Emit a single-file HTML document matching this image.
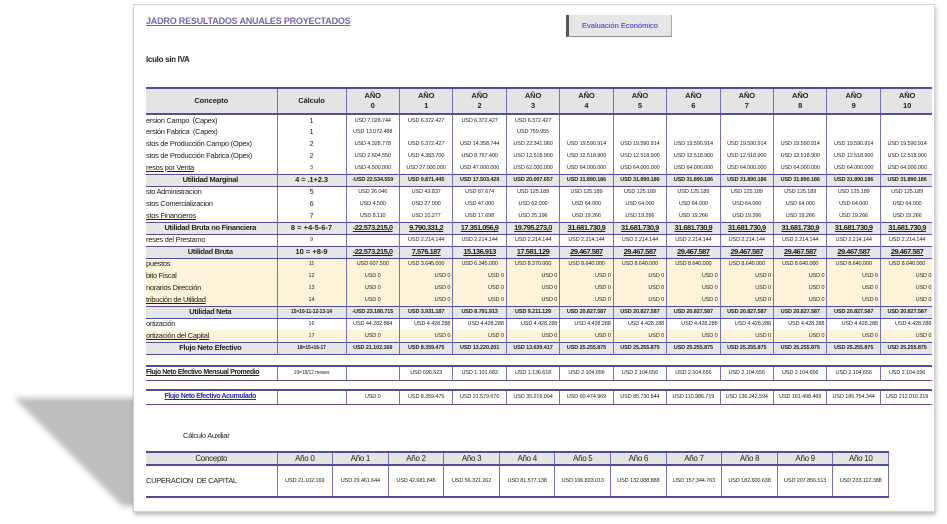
<!DOCTYPE html>
<html><head><meta charset="utf-8"><style>
*{margin:0;padding:0;box-sizing:border-box}
body{width:947px;height:524px;background:#fff;position:relative;overflow:hidden;font-family:"Liberation Sans Narrow","Liberation Sans",sans-serif;color:#222}
.card{position:absolute;left:133px;top:4px;width:802px;height:508px;background:#fff;border:1px solid #d4d4d4;box-shadow:1px 3px 4px rgba(0,0,0,.25)}
.abs{position:absolute}
table{border-collapse:collapse;table-layout:fixed}
td{height:12px;font-size:5.5px;text-align:center;white-space:nowrap;overflow:hidden;border-left:1px solid #7070c0;border-right:1px solid #7070c0;padding:0 2px;line-height:10px;letter-spacing:-0.1px}
td.c{text-align:left;font-size:7.5px;padding-left:0;border-left:none;letter-spacing:-0.3px}
td.k{font-size:7.5px}
tr.hd td{height:26px;background:#e4e4e4;font-weight:bold;font-size:7.5px;line-height:10px;border-top:2px solid #50509a;border-bottom:2px solid #50509a}
tr.b td{background:#e6e6e6;font-weight:bold;border-top:1px solid #50509a;border-bottom:1px solid #50509a}
tr.b td.c{text-align:center;font-size:7.5px}
tr.u td{text-decoration:underline;font-size:7.5px;letter-spacing:-0.5px}
tr.u td.c{letter-spacing:-0.3px}
tr.y td{background:#fdf3d8}
td.r{text-align:right}
td.f{font-size:5px}
.wrap{position:absolute;left:146px;overflow:hidden}
tr.ah td{height:12px;background:#e4e4e4;font-size:8px;line-height:11px;border-top:2px solid #50509a;border-bottom:2px solid #50509a;letter-spacing:-0.3px}
</style></head><body>
<svg class="abs" style="left:0;top:380px" width="150" height="144"><defs><filter id="f"><feGaussianBlur stdDeviation="3"/></filter></defs><polygon points="14,18 140,18 140,126 122,126" fill="#bdbdbd" filter="url(#f)"/></svg>
<div class="card"></div>
<div class="abs" style="left:146px;top:16px;font-size:9px;font-weight:bold;color:#6a6aa8;text-decoration:underline;letter-spacing:-0.2px">JADRO RESULTADOS ANUALES PROYECTADOS</div>
<div class="abs" style="left:566px;top:15px;width:106px;height:22px;background:#e6e6e6;border-left:3px solid #555;border-bottom:1px solid #888;border-right:1px solid #aaa;font-size:7.5px;color:#2a2ad0;text-align:center;line-height:22px">Evaluación Económico</div>
<div class="abs" style="left:146px;top:55px;font-size:8px;font-weight:bold;letter-spacing:-0.3px">lculo sin IVA</div>

<div class="wrap" style="top:87px;width:786px">
<table style="width:788px">
<colgroup><col style="width:131px"><col style="width:69px"><col span="11" style="width:53.45px"></colgroup>
<tr class="hd"><td style="text-align:center;border-left:none">Concepto</td><td>Cálculo</td><td>AÑO<br>0</td><td>AÑO<br>1</td><td>AÑO<br>2</td><td>AÑO<br>3</td><td>AÑO<br>4</td><td>AÑO<br>5</td><td>AÑO<br>6</td><td>AÑO<br>7</td><td>AÑO<br>8</td><td>AÑO<br>9</td><td>AÑO<br>10</td></tr>
<tr><td class="c">ersion Campo &nbsp;(Capex)</td><td class="k">1</td><td>USD 7.028.744</td><td>USD 6.372.427</td><td>USD 6.372.427</td><td>USD 6.372.427</td><td></td><td></td><td></td><td></td><td></td><td></td><td></td></tr>
<tr><td class="c">ersión Fabrica &nbsp;(Capex)</td><td class="k">1</td><td>USD 13.072.488</td><td></td><td></td><td>USD 759.955</td><td></td><td></td><td></td><td></td><td></td><td></td><td></td></tr>
<tr><td class="c">stos de Producción Campo (Opex)</td><td class="k">2</td><td>USD 4.328.778</td><td>USD 6.372.427</td><td>USD 14.358.744</td><td>USD 22.341.060</td><td>USD 19.590.914</td><td>USD 19.590.914</td><td>USD 19.590.914</td><td>USD 19.590.914</td><td>USD 19.590.914</td><td>USD 19.590.914</td><td>USD 19.590.914</td></tr>
<tr><td class="c">stos de Producción Fabrica (Opex)</td><td class="k">2</td><td>USD 2.604.550</td><td>USD 4.383.700</td><td>USD 8.767.400</td><td>USD 12.518.900</td><td>USD 12.518.900</td><td>USD 12.518.900</td><td>USD 12.518.900</td><td>USD 12.518.900</td><td>USD 12.518.900</td><td>USD 12.518.900</td><td>USD 12.518.900</td></tr>
<tr><td class="c" style="text-decoration:underline">resos por Venta</td><td>3</td><td>USD 4.500.000</td><td>USD 27.000.000</td><td>USD 47.000.000</td><td>USD 62.000.000</td><td>USD 64.000.000</td><td>USD 64.000.000</td><td>USD 64.000.000</td><td>USD 64.000.000</td><td>USD 64.000.000</td><td>USD 64.000.000</td><td>USD 64.000.000</td></tr>
<tr class="b"><td class="c">Utilidad Marginal</td><td class="k">4 = .1+2.3</td><td>-USD 22.534.559</td><td>USD 9.871.445</td><td>USD 17.503.429</td><td>USD 20.007.657</td><td>USD 31.890.186</td><td>USD 31.890.186</td><td>USD 31.890.186</td><td>USD 31.890.186</td><td>USD 31.890.186</td><td>USD 31.890.186</td><td>USD 31.890.186</td></tr>
<tr><td class="c">sto Administracion</td><td class="k">5</td><td>USD 26.046</td><td>USD 43.837</td><td>USD 87.674</td><td>USD 125.189</td><td>USD 125.189</td><td>USD 125.189</td><td>USD 125.189</td><td>USD 125.189</td><td>USD 125.189</td><td>USD 125.189</td><td>USD 125.189</td></tr>
<tr><td class="c">stos Comercializacion</td><td class="k">6</td><td>USD 4.500</td><td>USD 27.000</td><td>USD 47.000</td><td>USD 62.000</td><td>USD 64.000</td><td>USD 64.000</td><td>USD 64.000</td><td>USD 64.000</td><td>USD 64.000</td><td>USD 64.000</td><td>USD 64.000</td></tr>
<tr><td class="c" style="text-decoration:underline">stos Financieros</td><td class="k">7</td><td>USD 8.110</td><td>USD 10.277</td><td>USD 17.698</td><td>USD 25.196</td><td>USD 19.266</td><td>USD 19.266</td><td>USD 19.266</td><td>USD 19.266</td><td>USD 19.266</td><td>USD 19.266</td><td>USD 19.266</td></tr>
<tr class="b u"><td class="c" style="text-decoration:none">Utilidad Bruta no Financiera</td><td class="f" style="text-decoration:none;letter-spacing:0">8 = +4-5-6-7</td><td>-22.573.215,0</td><td>9.790.331,2</td><td>17.351.056,9</td><td>19.795.273,0</td><td>31.681.730,9</td><td>31.681.730,9</td><td>31.681.730,9</td><td>31.681.730,9</td><td>31.681.730,9</td><td>31.681.730,9</td><td>31.681.730,9</td></tr>
<tr><td class="c">reses del Prestamo</td><td>9</td><td></td><td>USD 2.214.144</td><td>USD 2.214.144</td><td>USD 2.214.144</td><td>USD 2.214.144</td><td>USD 2.214.144</td><td>USD 2.214.144</td><td>USD 2.214.144</td><td>USD 2.214.144</td><td>USD 2.214.144</td><td>USD 2.214.144</td></tr>
<tr class="b u"><td class="c" style="text-decoration:none">Utilidad Bruta</td><td class="f" style="text-decoration:none;letter-spacing:0">10 = +8-9</td><td>-22.573.215,0</td><td>7.576.187</td><td>15.136.913</td><td>17.581.129</td><td>29.467.587</td><td>29.467.587</td><td>29.467.587</td><td>29.467.587</td><td>29.467.587</td><td>29.467.587</td><td>29.467.587</td></tr>
<tr class="y"><td class="c">puestos</td><td>11</td><td>USD 607.500</td><td>USD 3.645.000</td><td>USD 6.345.000</td><td>USD 8.370.000</td><td>USD 8.640.000</td><td>USD 8.640.000</td><td>USD 8.640.000</td><td>USD 8.640.000</td><td>USD 8.640.000</td><td>USD 8.640.000</td><td>USD 8.640.000</td></tr>
<tr class="y"><td class="c">bito Fiscal</td><td>12</td><td>USD 0</td><td class="r">USD 0</td><td class="r">USD 0</td><td class="r">USD 0</td><td class="r">USD 0</td><td class="r">USD 0</td><td class="r">USD 0</td><td class="r">USD 0</td><td class="r">USD 0</td><td class="r">USD 0</td><td class="r">USD 0</td></tr>
<tr class="y"><td class="c">norarios Dirección</td><td>13</td><td>USD 0</td><td class="r">USD 0</td><td class="r">USD 0</td><td class="r">USD 0</td><td class="r">USD 0</td><td class="r">USD 0</td><td class="r">USD 0</td><td class="r">USD 0</td><td class="r">USD 0</td><td class="r">USD 0</td><td class="r">USD 0</td></tr>
<tr class="y"><td class="c" style="text-decoration:underline">tribución de Utilidad</td><td>14</td><td>USD 0</td><td class="r">USD 0</td><td class="r">USD 0</td><td class="r">USD 0</td><td class="r">USD 0</td><td class="r">USD 0</td><td class="r">USD 0</td><td class="r">USD 0</td><td class="r">USD 0</td><td class="r">USD 0</td><td class="r">USD 0</td></tr>
<tr class="b"><td class="c">Utilidad Neta</td><td class="f">15=10-11-12-13-14</td><td>-USD 23.180.715</td><td>USD 3.931.187</td><td>USD 8.791.913</td><td>USD 9.211.129</td><td>USD 20.827.587</td><td>USD 20.827.587</td><td>USD 20.827.587</td><td>USD 20.827.587</td><td>USD 20.827.587</td><td>USD 20.827.587</td><td>USD 20.827.587</td></tr>
<tr><td class="c">ortización</td><td>16</td><td>USD 44.282.884</td><td class="r">USD 4.428.288</td><td class="r">USD 4.428.288</td><td class="r">USD 4.428.288</td><td class="r">USD 4.428.288</td><td class="r">USD 4.428.288</td><td class="r">USD 4.428.288</td><td class="r">USD 4.428.288</td><td class="r">USD 4.428.288</td><td class="r">USD 4.428.288</td><td class="r">USD 4.428.288</td></tr>
<tr class="y"><td class="c" style="text-decoration:underline">ortización del Capital</td><td>17</td><td>USD 0</td><td class="r">USD 0</td><td class="r">USD 0</td><td class="r">USD 0</td><td class="r">USD 0</td><td class="r">USD 0</td><td class="r">USD 0</td><td class="r">USD 0</td><td class="r">USD 0</td><td class="r">USD 0</td><td class="r">USD 0</td></tr>
<tr class="b"><td class="c">Flujo Neto Efectivo</td><td class="f">18=15+16-17</td><td>USD 21.102.169</td><td>USD 8.359.475</td><td>USD 13.220.201</td><td>USD 13.639.417</td><td>USD 25.255.875</td><td>USD 25.255.875</td><td>USD 25.255.875</td><td>USD 25.255.875</td><td>USD 25.255.875</td><td>USD 25.255.875</td><td>USD 25.255.875</td></tr>
</table></div>

<div class="wrap" style="top:365px;width:786px">
<table style="width:788px">
<colgroup><col style="width:131px"><col style="width:69px"><col span="11" style="width:53.45px"></colgroup>
<tr style="border-top:2px solid #50509a;border-bottom:1px solid #50509a"><td class="c" style="font-weight:bold;text-decoration:underline;height:14px;font-size:7px;letter-spacing:-0.4px">Flujo Neto Efectivo Mensual Promedio</td><td class="f">19=18/12 meses</td><td></td><td>USD 696.623</td><td>USD 1.101.683</td><td>USD 1.136.618</td><td>USD 2.104.656</td><td>USD 2.104.656</td><td>USD 2.104.656</td><td>USD 2.104.656</td><td>USD 2.104.656</td><td>USD 2.104.656</td><td>USD 2.104.656</td></tr>
</table></div>
<div class="wrap" style="top:389px;width:786px">
<table style="width:788px">
<colgroup><col style="width:131px"><col style="width:69px"><col span="11" style="width:53.45px"></colgroup>
<tr style="border-top:2px solid #50509a;border-bottom:1px solid #50509a"><td class="c" style="font-weight:bold;text-decoration:underline;color:#2a2ab0;text-align:center;height:14px;font-size:7px;letter-spacing:-0.4px">Flujo Neto Efectivo Acumulado</td><td></td><td>USD 0</td><td>USD 8.359.475</td><td>USD 21.579.676</td><td>USD 35.219.094</td><td>USD 60.474.969</td><td>USD 85.730.844</td><td>USD 110.986.719</td><td>USD 136.242.594</td><td>USD 161.498.469</td><td>USD 186.754.344</td><td>USD 212.010.219</td></tr>
</table></div>

<div class="abs" style="left:183px;top:431px;font-size:7.5px;letter-spacing:-0.3px">Cálculo Auxiliar</div>
<div class="wrap" style="top:451px;width:744px">
<table style="width:743px">
<colgroup><col style="width:131px"><col span="11" style="width:55.6px"></colgroup>
<tr class="ah"><td style="border-left:none">Concepto</td><td>Año 0</td><td>Año 1</td><td>Año 2</td><td>Año 3</td><td>Año 4</td><td>Año 5</td><td>Año 6</td><td>Año 7</td><td>Año 8</td><td>Año 9</td><td>Año 10</td></tr>
<tr style="border-bottom:2px solid #50509a"><td class="c" style="height:32px">CUPERACION &nbsp;DE CAPITAL</td><td>USD 21.102.169</td><td>USD 29.461.644</td><td>USD 42.681.845</td><td>USD 56.321.262</td><td>USD 81.577.138</td><td>USD 106.833.013</td><td>USD 132.088.888</td><td>USD 157.344.763</td><td>USD 182.600.638</td><td>USD 207.856.513</td><td>USD 233.112.388</td></tr>
</table></div>
</body></html>
